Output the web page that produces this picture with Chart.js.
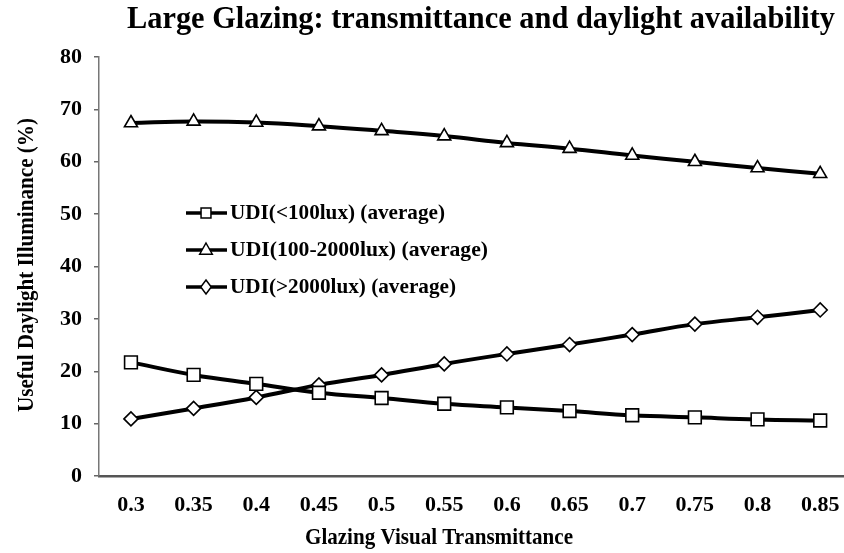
<!DOCTYPE html>
<html>
<head>
<meta charset="utf-8">
<script src="https://cdn.jsdelivr.net/npm/chart.js@4/dist/chart.umd.min.js"></script>
<style>
  html, body { margin: 0; padding: 0; background: #fff; overflow: hidden; }
  #wrap { width: 844px; height: 553px; position: relative; }
</style>
</head>
<body>
<div id="wrap"><canvas id="udiChart"></canvas></div>
<script>
// values
const transmittance = [0.3, 0.35, 0.4, 0.45, 0.5, 0.55, 0.6, 0.65, 0.7, 0.75, 0.8, 0.85];
const xTickLabels = ["0.3", "0.35", "0.4", "0.45", "0.5", "0.55", "0.6", "0.65", "0.7", "0.75", "0.8", "0.85"];
const yTickValues = [0, 10, 20, 30, 40, 50, 60, 70, 80];

const udiLow = [21.7, 19.3, 17.6, 15.9, 14.9, 13.8, 13.1, 12.4, 11.6, 11.2, 10.8, 10.6];
const udiMid = [67.4, 67.7, 67.5, 66.8, 65.9, 64.9, 63.6, 62.5, 61.2, 60.0, 58.8, 57.7];
const udiHigh = [10.9, 12.9, 15.0, 17.4, 19.3, 21.4, 23.3, 25.1, 27.0, 29.0, 30.3, 31.7];

const seriesNames = ["UDI(<100lux) (average)", "UDI(100-2000lux) (average)", "UDI(>2000lux) (average)"];
const chartTitle = "Large Glazing: transmittance and daylight availability";
const xTitle = "Glazing Visual Transmittance";
const yTitle = "Useful Daylight Illuminance (%)";

const SERIF = "'Liberation Serif', 'Times New Roman', serif";

function toPoints(values) {
  return transmittance.map((t, i) => ({ x: t, y: values[i] }));
}

function makeSet(label, values, style, radius) {
  return {
    label: label,
    data: toPoints(values),
    borderColor: "#000",
    borderWidth: 4,
    tension: 0.4,
    pointStyle: style,
    pointRadius: radius,
    pointHoverRadius: radius,
    pointBackgroundColor: "#fff",
    pointBorderColor: "#000",
    pointBorderWidth: 1.6,
  };
}

// draw text squeezed horizontally to a given width (the source uses a narrow serif)
function fitText(ctx, text, cx, cy, size, width, angle) {
  ctx.save();
  ctx.font = "bold " + size + "px " + SERIF;
  const w = ctx.measureText(text).width;
  ctx.translate(cx, cy);
  if (angle) ctx.rotate(angle);
  ctx.scale(width / w, 1);
  ctx.textAlign = "center";
  ctx.textBaseline = "middle";
  ctx.fillStyle = "#000";
  ctx.fillText(text, 0, 0);
  ctx.restore();
}

function marker(ctx, style, x, y, r) {
  ctx.beginPath();
  if (style === "rect") {
    const s = r * Math.SQRT1_2;
    ctx.rect(x - s, y - s, 2 * s, 2 * s);
  } else if (style === "triangle") {
    ctx.moveTo(x, y - r);
    ctx.lineTo(x + r * 0.9, y + r * 0.6);
    ctx.lineTo(x - r * 0.9, y + r * 0.6);
    ctx.closePath();
  } else {
    ctx.moveTo(x, y - r);
    ctx.lineTo(x + r * 0.75, y);
    ctx.lineTo(x, y + r);
    ctx.lineTo(x - r * 0.75, y);
    ctx.closePath();
  }
  ctx.fillStyle = "#fff";
  ctx.fill();
  ctx.lineWidth = 1.5;
  ctx.strokeStyle = "#000";
  ctx.stroke();
}

const textPlugin = {
  id: "texts",
  afterDraw(chart) {
    const ctx = chart.ctx;
    fitText(ctx, chartTitle, 481, 20, 31, 708);
    fitText(ctx, xTitle, 439, 538, 23, 268);
    fitText(ctx, yTitle, 27, 265, 23, 294, -Math.PI / 2);

    // legend inside the plot
    const rows = [213, 250, 287];
    const widths = [215, 258, 226];
    chart.data.datasets.forEach((ds, i) => {
      const y = rows[i];
      ctx.save();
      ctx.strokeStyle = "#000";
      ctx.lineWidth = 3.5;
      ctx.beginPath();
      ctx.moveTo(186, y);
      ctx.lineTo(227, y);
      ctx.stroke();
      ctx.restore();
      marker(ctx, ds.pointStyle, 206, y, 7);
      fitText(ctx, ds.label, 230 + widths[i] / 2, y, 22, widths[i]);
    });
  }
};

const ctx = document.getElementById("udiChart").getContext("2d");
const udiChart = new Chart(ctx, {
  type: "line",
  data: {
    datasets: [
      makeSet(seriesNames[0], udiLow, "rect", 9),
      makeSet(seriesNames[1], udiMid, "triangle", 7.5),
      makeSet(seriesNames[2], udiHigh, "rectRot", 7),
    ],
  },
  options: {
    responsive: true,
    maintainAspectRatio: false,
    animation: false,
    layout: { autoPadding: false, padding: { top: 57, left: 0, right: 0, bottom: 0 } },
    plugins: {
      legend: { display: false },
      title: { display: false },
      tooltip: { enabled: false },
    },
    scales: {
      x: {
        type: "linear",
        min: 0.2745,
        max: 0.869,
        afterBuildTicks(scale) {
          scale.ticks = transmittance.map((v) => ({ value: v }));
        },
        afterFit(scale) {
          scale.height = 77;
          scale.paddingLeft = 0;
          scale.paddingRight = 0;
        },
        grid: { display: false },
        border: { display: true, color: "#555", width: 2.5 },
        ticks: {
          padding: 8,
          color: "#000",
          font: { family: SERIF, size: 22, weight: "bold" },
          maxRotation: 0,
          autoSkip: false,
          callback(value) {
            const i = transmittance.indexOf(value);
            return i >= 0 ? xTickLabels[i] : "";
          },
        },
      },
      y: {
        min: 0,
        max: 80,
        afterBuildTicks(scale) {
          scale.ticks = yTickValues.map((v) => ({ value: v }));
        },
        afterFit(scale) {
          scale.width = 99;
        },
        grid: {
          drawOnChartArea: false,
          drawTicks: true,
          tickLength: 5,
          color: "#666",
          lineWidth: 1.5,
        },
        border: { display: true, color: "#777", width: 1.5 },
        ticks: {
          padding: 12,
          color: "#000",
          font: { family: SERIF, size: 22, weight: "bold" },
        },
      },
    },
  },
  plugins: [textPlugin],
});
</script>
</body>
</html>
